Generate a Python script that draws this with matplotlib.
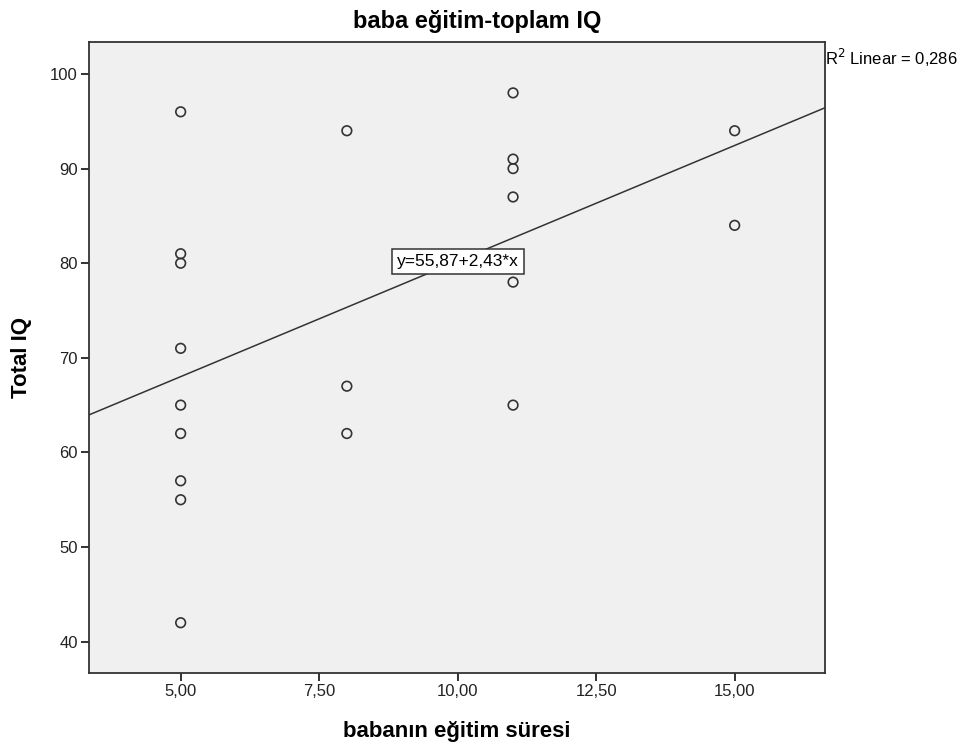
import numpy as np
import matplotlib.pyplot as plt

plt.rcParams['font.family'] = ['Liberation Sans', 'DejaVu Sans']

# babanın eğitim süresi (years) and Total IQ
x_vals = [5, 5, 5, 5, 5, 5, 5, 5, 5,
          8, 8, 8,
          11, 11, 11, 11, 11, 11,
          15, 15]
iq_vals = [96, 81, 80, 71, 65, 62, 57, 55, 42,
           94, 67, 62,
           98, 91, 90, 87, 78, 65,
           94, 84]
x_ticks = [5.0, 7.5, 10.0, 12.5, 15.0]
y_ticks = [40, 50, 60, 70, 80, 90, 100]

# labels as printed by the original output
eq_label = "y=55,87+2,43*x"
r2_label = "R$^2$ Linear = 0,286"

x = np.array(x_vals, dtype=float)
y = np.array(iq_vals, dtype=float)
slope, intercept = np.polyfit(x, y, 1)

fig = plt.figure(figsize=(9.66, 7.47), dpi=100)
ax = fig.add_axes([0.0921, 0.0991, 0.7619, 0.8447])
ax.set_facecolor('#f0f0f0')

ax.scatter(x, y, s=48, facecolors='none', edgecolors='#333333', linewidths=1.2, zorder=3)

xlim = (3.345, 16.63)
xx = np.array(xlim)
ax.plot(xx, intercept + slope * xx, color='#333333', lw=1.1, zorder=2)

ax.set_xlim(*xlim)
ax.set_ylim(36.69, 103.38)
ax.set_xticks(x_ticks)
ax.set_xticklabels([f"{v:.2f}".replace('.', ',') for v in x_ticks])
ax.set_yticks(y_ticks)
ax.tick_params(direction='out', length=6, width=1.3, labelsize=12, colors='#222222', pad=2)

for s in ax.spines.values():
    s.set_color('#333333')
    s.set_linewidth(1.3)

ax.set_title('baba eğitim-toplam IQ', fontsize=17, fontweight='bold', pad=10, x=0.527)
ax.set_xlabel('babanın eğitim süresi', fontsize=16, fontweight='bold', va='center')
ax.xaxis.set_label_coords(0.5, -0.0935)
ax.set_ylabel('Total IQ', fontsize=16, fontweight='bold', va='center')
ax.yaxis.set_label_coords(-0.091, 0.5)

ax.text(10.0, 80.2, eq_label, ha='center', va='center', fontsize=12.5, zorder=4,
        bbox=dict(boxstyle='square,pad=0.3', facecolor='white', edgecolor='#333333', lw=1.1))

fig.text(0.854, 0.9224, r2_label, fontsize=12, ha='left', va='center')

fig.savefig('out.png', dpi=100, facecolor='white')
